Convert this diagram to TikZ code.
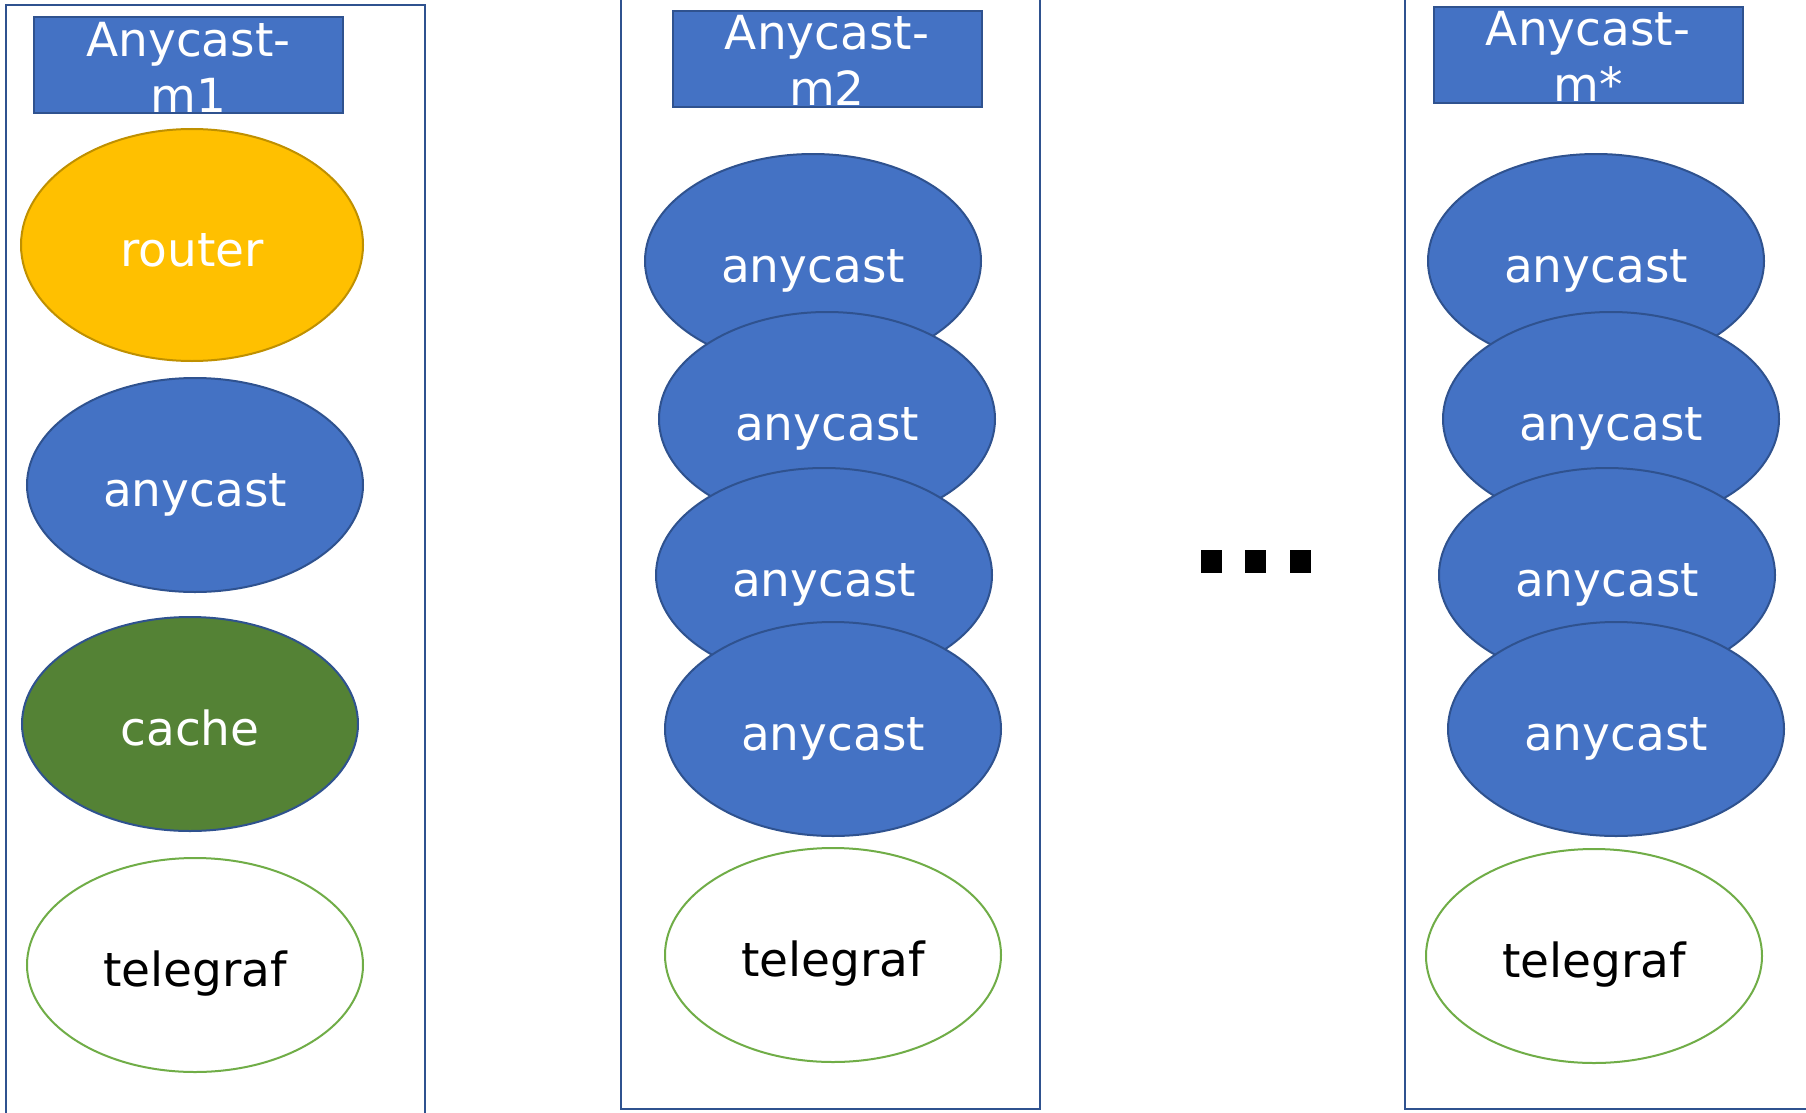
\documentclass[tikz,border=0pt]{standalone}
\usepackage{fontspec}
\setmainfont{DejaVu Sans}
\usetikzlibrary{shapes.geometric}
\definecolor{accblue}{HTML}{4472C4}
\definecolor{edgeblue}{HTML}{2F528F}
\definecolor{gold}{HTML}{FFC000}
\definecolor{goldedge}{HTML}{BF9000}
\definecolor{leaf}{HTML}{548235}
\definecolor{lime}{HTML}{70AD47}
\begin{document}
\begin{tikzpicture}[x=1pt,y=-1pt,
  every node/.style={font=\fontsize{47}{56}\selectfont},
  hostbox/.style={draw=edgeblue,line width=2.5pt},
  header/.style={rectangle,draw=edgeblue,line width=2pt,fill=accblue,inner sep=0pt,
    minimum width=309pt,minimum height=96pt},
  htext/.style={text=white,align=center,anchor=north,inner sep=0pt},
  svc/.style={ellipse,inner sep=0pt,minimum width=336pt,minimum height=214pt,
    line width=2pt,text height=42pt,text depth=0pt},
  bluesvc/.style={svc,draw=edgeblue,fill=accblue,text=white},
  routersvc/.style={svc,draw=goldedge,fill=gold,text=white,minimum width=342pt,minimum height=232pt},
  cachesvc/.style={svc,draw=edgeblue,fill=leaf,text=white},
  telesvc/.style={svc,draw=lime,fill=white,text=black},
  dot/.style={rectangle,fill=black,inner sep=0pt,minimum width=21pt,minimum height=23pt}
]
\fill[white] (0,0) rectangle (1806,1113);
\clip (0,0) rectangle (1806,1113);

% host frames
\draw[hostbox] (6,5) rectangle (425,1140);
\draw[hostbox] (621,-20) rectangle (1040,1109);
\draw[hostbox] (1405,-20) rectangle (1850,1109);

% column 1
\node[header] (h1) at (188.5,65) {};
\node[htext] (h1t) at (188.5,22) {Anycast-\\m1};
\node[routersvc] (r1) at (192,245) {router};
\node[bluesvc] (a11) at (195,485) {anycast};
\node[cachesvc] (c1) at (190,724) {cache};
\node[telesvc] (t1) at (195,965) {telegraf};

% column 2
\node[header] (h2) at (827,59) {};
\node[htext] (h2t) at (827,15) {Anycast-\\m2};
\node[bluesvc] (a21) at (813,261) {anycast};
\node[bluesvc] (a22) at (827,419) {anycast};
\node[bluesvc] (a23) at (824,575) {anycast};
\node[bluesvc] (a24) at (833,729) {anycast};
\node[telesvc] (t2) at (833,955) {telegraf};

% column 3
\node[header] (h3) at (1588,55.5) {};
\node[htext] (h3t) at (1588,11) {Anycast-\\m*};
\node[bluesvc] (a31) at (1596,261) {anycast};
\node[bluesvc] (a32) at (1611,419) {anycast};
\node[bluesvc] (a33) at (1607,575) {anycast};
\node[bluesvc] (a34) at (1616,729) {anycast};
\node[telesvc] (t3) at (1594,956) {telegraf};

% ellipsis
\node[dot] (d1) at (1211.5,561.5) {};
\node[dot] (d2) at (1255.5,561.5) {};
\node[dot] (d3) at (1300.5,561.5) {};
\end{tikzpicture}
\end{document}
